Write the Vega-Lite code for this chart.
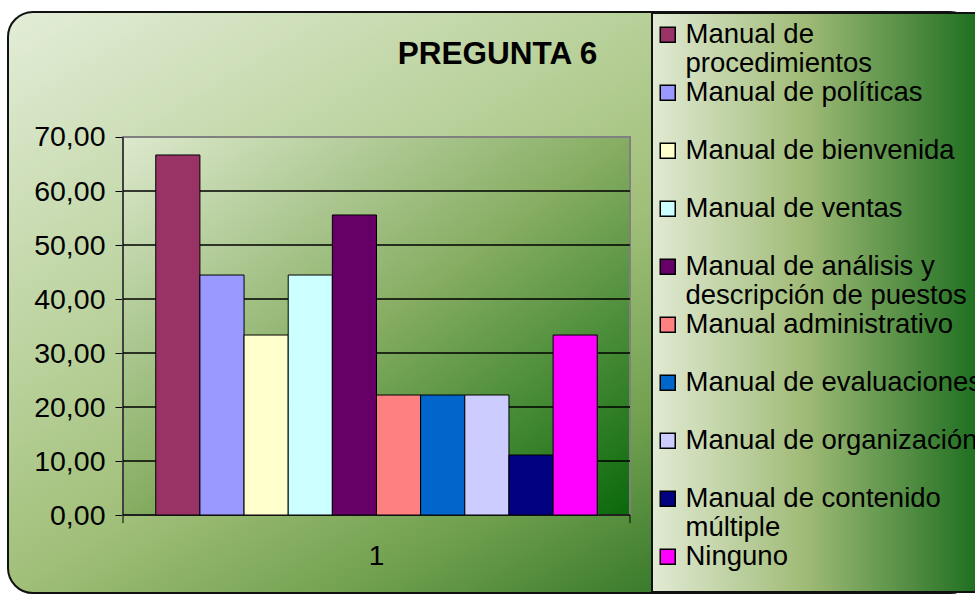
{
  "$schema": "https://vega.github.io/schema/vega-lite/v6.json",
  "width": 967,
  "height": 581,
  "autosize": {"type": "none"},
  "padding": {"left": 8, "top": 12, "right": 0, "bottom": 2},
  "background": "white",
  "view": {
    "fill": {"gradient": "linear", "x1": 0, "y1": 0, "x2": 1, "y2": 1,
      "stops": [
        {"offset": 0, "color": "#e3edd8"},
        {"offset": 0.3, "color": "#bcd39f"},
        {"offset": 0.5, "color": "#a0bf78"},
        {"offset": 0.68, "color": "#70a04e"},
        {"offset": 0.82, "color": "#3e7e2e"},
        {"offset": 1, "color": "#0e680e"}
      ]},
    "stroke": "#111111",
    "strokeWidth": 2,
    "cornerRadius": 25
  },
  "title": {
    "text": "PREGUNTA 6",
    "font": "Liberation Sans",
    "fontSize": 31.5,
    "fontWeight": "bold",
    "color": "black",
    "anchor": "middle",
    "frame": "group",
    "baseline": "middle",
    "offset": -43,
    "dx": 6,
    "dy": 31
  },
  "datasets": {
    "respuestas": [
      {"grupo": "1", "serie": "Manual de procedimientos", "valor": 66.67},
      {"grupo": "1", "serie": "Manual de políticas", "valor": 44.44},
      {"grupo": "1", "serie": "Manual de bienvenida", "valor": 33.33},
      {"grupo": "1", "serie": "Manual de ventas", "valor": 44.44},
      {"grupo": "1", "serie": "Manual de análisis y descripción de puestos", "valor": 55.56},
      {"grupo": "1", "serie": "Manual administrativo", "valor": 22.22},
      {"grupo": "1", "serie": "Manual de evaluaciones", "valor": 22.22},
      {"grupo": "1", "serie": "Manual de organización", "valor": 22.22},
      {"grupo": "1", "serie": "Manual de contenido múltiple", "valor": 11.11},
      {"grupo": "1", "serie": "Ninguno", "valor": 33.33}
    ],
    "area": [{"grupo": "1"}],
    "rejilla": [
      {"grupo": "1", "nivel": 0},
      {"grupo": "1", "nivel": 10},
      {"grupo": "1", "nivel": 20},
      {"grupo": "1", "nivel": 30},
      {"grupo": "1", "nivel": 40},
      {"grupo": "1", "nivel": 50},
      {"grupo": "1", "nivel": 60}
    ]
  },
  "layer": [
    {
      "data": {"name": "area"},
      "mark": {
        "type": "rect",
        "fill": {"gradient": "linear", "x1": 0, "y1": 0, "x2": 1, "y2": 1,
          "stops": [
            {"offset": 0, "color": "#dde9cd"},
            {"offset": 0.5, "color": "#86ad62"},
            {"offset": 1, "color": "#0a690a"}
          ]},
        "stroke": "#808080",
        "strokeWidth": 2
      },
      "encoding": {
        "x": {"field": "grupo", "type": "nominal",
          "scale": {"paddingInner": 0, "paddingOuter": 0.45365, "align": 0.25},
          "axis": {"orient": "bottom", "offset": -58, "domain": false, "ticks": false, "grid": false, "labelAngle": 0, "labelFont": "Liberation Sans", "labelFontSize": 28, "labelColor": "black", "labelPadding": 7, "title": null}},
        "y": {"datum": 0, "type": "quantitative",
          "scale": {"domain": [-14.444, 93.148], "nice": false, "zero": false},
          "axis": {"values": [0, 10, 20, 30, 40, 50, 60, 70], "labelExpr": "replace(format(datum.value, '.2f'), '.', ',')", "offset": -115, "domain": false, "grid": false, "ticks": true, "tickSize": 8, "tickColor": "black", "tickWidth": 1, "labelFont": "Liberation Sans", "labelFontSize": 28.5, "labelColor": "black", "labelPadding": 10, "labelFlush": false, "labelOverlap": false, "title": null}},
        "y2": {"datum": 70}
      }
    },
    {
      "data": {"name": "rejilla"},
      "mark": {"type": "rect", "filled": false, "stroke": "black", "strokeWidth": 1},
      "encoding": {
        "x": {"field": "grupo", "type": "nominal",
          "scale": {"paddingInner": 0, "paddingOuter": 0.45365, "align": 0.25},
          "axis": {"orient": "bottom", "offset": -58, "domain": false, "ticks": false, "grid": false, "labelAngle": 0, "labelFont": "Liberation Sans", "labelFontSize": 28, "labelColor": "black", "labelPadding": 7, "title": null}},
        "y": {"field": "nivel", "type": "quantitative",
          "scale": {"domain": [-14.444, 93.148], "nice": false, "zero": false},
          "axis": {"values": [0, 10, 20, 30, 40, 50, 60, 70], "labelExpr": "replace(format(datum.value, '.2f'), '.', ',')", "offset": -115, "domain": false, "grid": false, "ticks": true, "tickSize": 8, "tickColor": "black", "tickWidth": 1, "labelFont": "Liberation Sans", "labelFontSize": 28.5, "labelColor": "black", "labelPadding": 10, "labelFlush": false, "labelOverlap": false, "title": null}},
        "y2": {"field": "nivel"}
      }
    },
    {
      "data": {"name": "respuestas"},
      "mark": {"type": "bar", "stroke": "black", "strokeWidth": 1},
      "encoding": {
        "x": {"field": "grupo", "type": "nominal",
          "scale": {"paddingInner": 0, "paddingOuter": 0.45365, "align": 0.25},
          "axis": {"orient": "bottom", "offset": -58, "domain": false, "ticks": false, "grid": false, "labelAngle": 0, "labelFont": "Liberation Sans", "labelFontSize": 28, "labelColor": "black", "labelPadding": 7, "title": null}},
        "xOffset": {"field": "serie", "type": "nominal", "sort": null,
          "scale": {"paddingInner": 0, "paddingOuter": 0.742}},
        "y": {"field": "valor", "type": "quantitative",
          "scale": {"domain": [-14.444, 93.148], "nice": false, "zero": false},
          "axis": {"values": [0, 10, 20, 30, 40, 50, 60, 70], "labelExpr": "replace(format(datum.value, '.2f'), '.', ',')", "offset": -115, "domain": false, "grid": false, "ticks": true, "tickSize": 8, "tickColor": "black", "tickWidth": 1, "labelFont": "Liberation Sans", "labelFontSize": 28.5, "labelColor": "black", "labelPadding": 10, "labelFlush": false, "labelOverlap": false, "title": null}},
        "y2": {"datum": 0},
        "color": {
          "field": "serie", "type": "nominal", "sort": null,
          "scale": {
            "domain": ["Manual de procedimientos", "Manual de políticas", "Manual de bienvenida", "Manual de ventas", "Manual de análisis y descripción de puestos", "Manual administrativo", "Manual de evaluaciones", "Manual de organización", "Manual de contenido múltiple", "Ninguno"],
            "range": ["#993366", "#9999ff", "#ffffcc", "#ccffff", "#660066", "#ff8080", "#0066cc", "#ccccff", "#000080", "#ff00ff"]
          },
          "legend": {
            "orient": "none",
            "legendX": 644,
            "legendY": 1,
            "title": " ",
            "titleOrient": "bottom",
            "titleFontSize": 10,
            "titlePadding": 4,
            "padding": 8,
            "symbolType": "square",
            "symbolSize": 225,
            "symbolStrokeColor": "black",
            "symbolStrokeWidth": 1.5,
            "symbolOpacity": 1,
            "symbolOffset": -6,
            "labelFont": "Liberation Sans",
            "labelFontSize": 27.5,
            "labelColor": "black",
            "labelLimit": 600,
            "labelOffset": 4,
            "labelBaseline": "middle",
            "rowPadding": 0,
            "gridAlign": "all",
            "labelExpr": "datum.label == 'Manual de procedimientos' ? ['Manual de', 'procedimientos'] : datum.label == 'Manual de análisis y descripción de puestos' ? ['Manual de análisis y', 'descripción de puestos'] : datum.label == 'Manual de contenido múltiple' ? ['Manual de contenido', 'múltiple'] : datum.label",
            "encode": {
              "legend": {
                "update": {
                  "fill": {"value": {"gradient": "linear", "x1": 0, "y1": 0, "x2": 1, "y2": 0,
                    "stops": [
                      {"offset": 0, "color": "#e1ead3"},
                      {"offset": 0.45, "color": "#a0bb77"},
                      {"offset": 1, "color": "#15691a"}
                    ]}},
                  "stroke": {"value": "#111111"},
                  "strokeWidth": {"value": 2}
                }
              }
            }
          }
        }
      }
    },
    {
      "data": {"name": "area"},
      "mark": {"type": "rule", "color": "black", "strokeWidth": 1},
      "encoding": {
        "x": {"field": "grupo", "type": "nominal", "bandPosition": 0,
          "scale": {"paddingInner": 0, "paddingOuter": 0.45365, "align": 0.25},
          "axis": {"orient": "bottom", "offset": -58, "domain": false, "ticks": false, "grid": false, "labelAngle": 0, "labelFont": "Liberation Sans", "labelFontSize": 28, "labelColor": "black", "labelPadding": 7, "title": null}},
        "y": {"datum": -1.5, "type": "quantitative",
          "scale": {"domain": [-14.444, 93.148], "nice": false, "zero": false},
          "axis": {"values": [0, 10, 20, 30, 40, 50, 60, 70], "labelExpr": "replace(format(datum.value, '.2f'), '.', ',')", "offset": -115, "domain": false, "grid": false, "ticks": true, "tickSize": 8, "tickColor": "black", "tickWidth": 1, "labelFont": "Liberation Sans", "labelFontSize": 28.5, "labelColor": "black", "labelPadding": 10, "labelFlush": false, "labelOverlap": false, "title": null}},
        "y2": {"datum": 70}
      }
    },
    {
      "data": {"name": "area"},
      "mark": {"type": "rule", "color": "black", "strokeWidth": 1},
      "encoding": {
        "x": {"field": "grupo", "type": "nominal", "bandPosition": 1,
          "scale": {"paddingInner": 0, "paddingOuter": 0.45365, "align": 0.25},
          "axis": {"orient": "bottom", "offset": -58, "domain": false, "ticks": false, "grid": false, "labelAngle": 0, "labelFont": "Liberation Sans", "labelFontSize": 28, "labelColor": "black", "labelPadding": 7, "title": null}},
        "y": {"datum": -1.5, "type": "quantitative",
          "scale": {"domain": [-14.444, 93.148], "nice": false, "zero": false},
          "axis": {"values": [0, 10, 20, 30, 40, 50, 60, 70], "labelExpr": "replace(format(datum.value, '.2f'), '.', ',')", "offset": -115, "domain": false, "grid": false, "ticks": true, "tickSize": 8, "tickColor": "black", "tickWidth": 1, "labelFont": "Liberation Sans", "labelFontSize": 28.5, "labelColor": "black", "labelPadding": 10, "labelFlush": false, "labelOverlap": false, "title": null}},
        "y2": {"datum": 0}
      }
    }
  ],
  "config": {
    "font": "Liberation Sans",
    "view": {"stroke": null}
  }
}
